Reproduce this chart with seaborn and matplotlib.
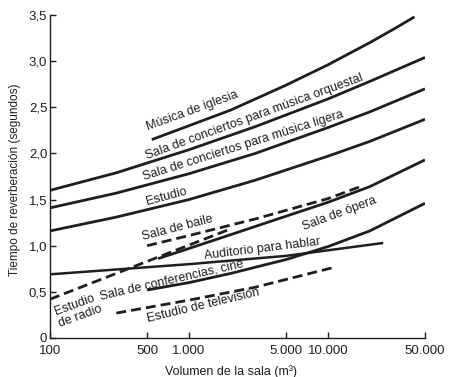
import matplotlib
matplotlib.use("Agg")
import matplotlib.pyplot as plt
import seaborn as sns
import pandas as pd

# ---------------- data ----------------
vol_iglesia = [540, 1000, 2000, 5000, 10000, 20000, 30000, 42000]
rt_iglesia = [2.15, 2.30, 2.47, 2.74, 2.96, 3.20, 3.35, 3.48]

vol_orquestal = [100, 300, 1000, 3000, 10000, 20000, 50000]
rt_orquestal = [1.60, 1.79, 2.04, 2.29, 2.59, 2.78, 3.04]

vol_ligera = [100, 300, 1000, 3000, 10000, 20000, 50000]
rt_ligera = [1.41, 1.57, 1.78, 2.00, 2.28, 2.45, 2.70]

vol_estudio = [100, 300, 1000, 3000, 10000, 20000, 50000]
rt_estudio = [1.16, 1.31, 1.50, 1.71, 1.97, 2.13, 2.37]

vol_baile = [500, 1000, 3000, 10000, 17800]
rt_baile = [1.00, 1.11, 1.29, 1.51, 1.65]

vol_opera = [600, 1000, 2000, 5000, 10000, 20000, 50000]
rt_opera = [0.86, 0.97, 1.12, 1.32, 1.47, 1.64, 1.93]

vol_auditorio = [100, 1000, 5000, 10000, 25000]
rt_auditorio = [0.69, 0.80, 0.89, 0.95, 1.03]

vol_radio = [100, 500, 1900]
rt_radio = [0.42, 0.83, 1.17]

vol_conferencias = [500, 1000, 2000, 5000, 10000, 20000, 50000]
rt_conferencias = [0.52, 0.60, 0.70, 0.85, 0.99, 1.16, 1.46]

vol_television = [300, 1000, 3000, 10700]
rt_television = [0.27, 0.41, 0.55, 0.76]

x_ticks = [100, 500, 1000, 5000, 10000, 50000]
x_ticklabels = ["100", "500", "1.000", "5.000", "10.000", "50.000"]
y_ticks = [0, 0.5, 1.0, 1.5, 2.0, 2.5, 3.0, 3.5]
y_ticklabels = ["0", "0,5", "1,0", "1,5", "2,0", "2,5", "3,0", "3,5"]

label_texts = ["Música de iglesia",
               "Sala de conciertos para música orquestal",
               "Sala de conciertos para música ligera",
               "Estudio",
               "Sala de baile",
               "Sala de ópera",
               "Auditorio para hablar",
               "Sala de conferencias, cine",
               "Estudio\nde radio",
               "Estudio de televisión"]

# ---------------- styling ----------------
sns.set_theme(style="ticks")
plt.rcParams["font.family"] = ["Liberation Sans", "DejaVu Sans"]
plt.rcParams["lines.dashed_pattern"] = [3.6, 1.8]
plt.rcParams["lines.solid_capstyle"] = "butt"
plt.rcParams["lines.dash_capstyle"] = "butt"

ink = "#1e1e1e"

fig = plt.figure(figsize=(4.5, 3.77), dpi=100)
ax = fig.add_axes([50 / 450, 39 / 377, 375 / 450, 323 / 377])

series = [
    (vol_iglesia, rt_iglesia, "-", 2.0),
    (vol_orquestal, rt_orquestal, "-", 2.0),
    (vol_ligera, rt_ligera, "-", 2.0),
    (vol_estudio, rt_estudio, "-", 2.0),
    (vol_baile, rt_baile, "--", 2.0),
    (vol_opera, rt_opera, "-", 2.0),
    (vol_auditorio, rt_auditorio, "-", 1.8),
    (vol_radio, rt_radio, "--", 2.0),
    (vol_conferencias, rt_conferencias, "-", 2.0),
    (vol_television, rt_television, "--", 2.0),
]
for vx, vy, ls, lw in series:
    df = pd.DataFrame({"vol": vx, "rt": vy})
    sns.lineplot(data=df, x="vol", y="rt", ax=ax, color=ink, linewidth=lw,
                 linestyle=ls, estimator=None, sort=False)

ax.set_xscale("log")
ax.set_xlim(100, 50000)
ax.set_ylim(0, 3.5)
ax.set_xticks(x_ticks, x_ticklabels)
ax.minorticks_off()
ax.set_yticks(y_ticks, y_ticklabels)
ax.tick_params(direction="in", length=4, width=1, colors=ink,
               labelsize=9.5, pad=2)
ax.tick_params(axis="x", pad=5)
for s in ["top", "right"]:
    ax.spines[s].set_visible(False)
for s in ["left", "bottom"]:
    ax.spines[s].set_linewidth(1.0)
    ax.spines[s].set_color(ink)

ax.set_xlabel("Volumen de la sala (m³)", fontsize=9, color=ink)
ax.set_ylabel("Tiempo de reverberación (segundos)", fontsize=8.5, color=ink)
ax.xaxis.set_label_coords(0.483, -0.104)
ax.xaxis.label.set_va("center")
ax.yaxis.set_label_coords(-0.093, 0.489)
ax.yaxis.label.set_va("center")

# label placement (x, y, rotation)
placements = [
    (1060, 2.46, 20),
    (2940, 2.40, 20),
    (2450, 2.08, 17.5),
    (690, 1.53, 15),
    (820, 1.19, 14.5),
    (12200, 1.35, 20.5),
    (3350, 0.96, 7),
    (755, 0.63, 13),
    (159, 0.30, 20),
    (1260, 0.35, 13.5),
]
for txt, (px, py, rot) in zip(label_texts, placements):
    ax.text(px, py, txt, fontsize=9, color=ink, rotation=rot,
            rotation_mode="anchor", ha="center", va="center",
            multialignment="left", linespacing=1.0)

fig.savefig("out.png", dpi=100)
